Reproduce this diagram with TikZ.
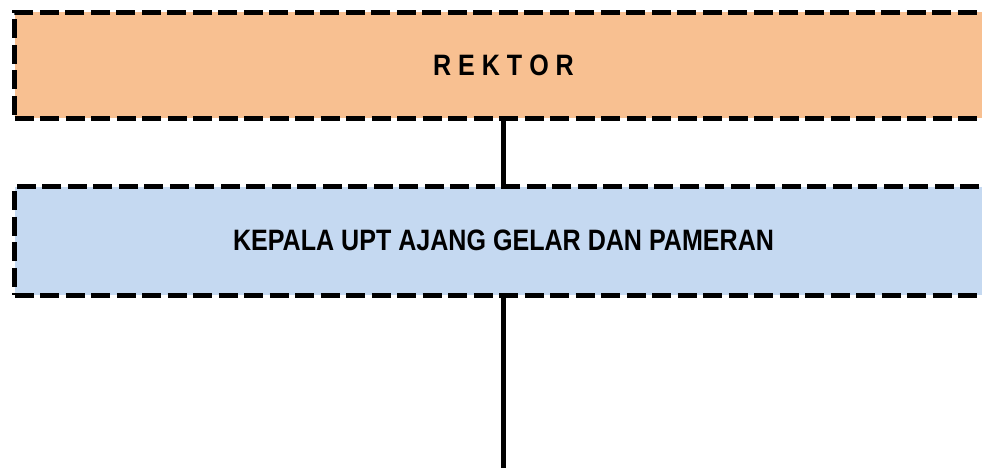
\documentclass[tikz,border=0pt]{standalone}
\usepackage{fontspec}
\setmainfont{Liberation Sans}
\newfontfamily\boxfont[FakeStretch=0.85]{Liberation Sans}
\definecolor{rektorfill}{RGB}{248,192,145}
\definecolor{kepalafill}{RGB}{197,217,241}
\usetikzlibrary{positioning}

\begin{document}
\begin{tikzpicture}[x=1pt,y=-1pt,
    unitbox/.style={draw=black, line width=5pt, dash pattern=on 19pt off 6.5pt,
        minimum width=1040pt, inner sep=0pt, outer sep=0pt, anchor=west},
    unitlabel/.style={inner sep=0pt, font=\boxfont\bfseries\fontsize{29.5}{32}\selectfont},
    link/.style={line width=5pt}]
    \useasboundingbox (0,0) rectangle (982,468);
    \clip (0,0) rectangle (982,468);

    \node[unitbox, fill=rektorfill, minimum height=106pt] (rektor) at (14.5,65.4) {};
    \node[unitlabel] (rektortext) at (503.5,65.4) {R E K T O R};
    \node[unitbox, fill=kepalafill, minimum height=108.5pt] (kepala) at (14.5,240.75) {};
    \node[unitlabel] (kepalatext) at (503.5,240.75) {KEPALA UPT AJANG GELAR DAN PAMERAN};
    \coordinate (bawah) at (503.5,475);

    % garis penghubung
    \draw[link] (rektor.south -| rektortext) -- (kepala.north -| kepalatext);
    \draw[link] (kepala.south -| kepalatext) -- (bawah);
\end{tikzpicture}
\end{document}
